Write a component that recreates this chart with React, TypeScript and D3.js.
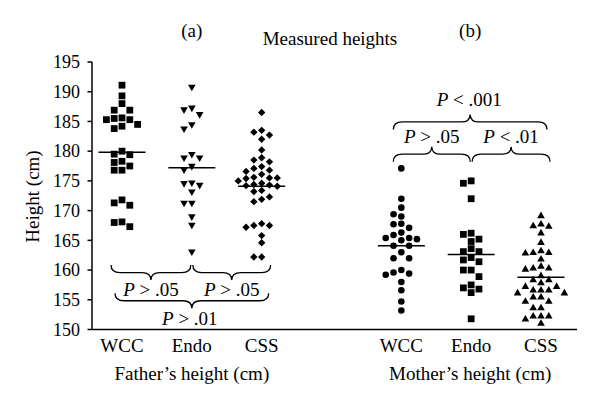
import React from "react";
import * as d3 from "d3";

// ---- data (cm) ----
const groups = ["WCC", "Endo", "CSS"];
const yTicks = [150, 155, 160, 165, 170, 175, 180, 185, 190, 195];

const fatherWCC = [191.1, 189.3, 188.0, 186.9, 186.9, 185.5, 185.3, 185.3, 185.6, 184.2, 183.8, 184.5, 179.4, 180.0, 179.5, 178.3, 178.1, 177.5, 176.8, 176.8, 171.3, 170.9, 171.8, 168.1, 167.3, 168.0];
const fatherEndo = [190.8, 187.0, 186.2, 187.3, 183.8, 184.5, 178.9, 178.9, 179.5, 177.5, 176.9, 174.7, 174.6, 174.3, 173.2, 171.3, 171.3, 169.0, 167.6, 163.1];
const fatherCSS = [186.5, 182.7, 183.2, 183.5, 182.0, 180.2, 178.5, 178.2, 178.9, 177.1, 176.8, 176.6, 177.4, 176.1, 175.6, 175.4, 175.5, 175.5, 174.4, 174.1, 174.3, 175.0, 174.6, 174.2, 173.2, 173.4, 171.9, 171.5, 172.3, 167.5, 167.2, 167.5, 167.8, 165.8, 164.6, 162.2, 162.2];

const motherWCC = [177.1, 172.0, 170.5, 169.4, 169.0, 167.8, 167.1, 167.7, 165.9, 166.3, 165.4, 165.0, 165.4, 165.2, 164.1, 164.1, 163.0, 162.0, 162.0, 160.0, 159.2, 159.4, 159.6, 158.0, 156.6, 154.7, 153.2];
const motherEndo = [174.6, 175.0, 172.0, 166.2, 166.0, 165.2, 164.8, 163.6, 163.1, 163.1, 162.1, 161.7, 161.4, 160.0, 160.0, 158.9, 157.5, 156.8, 156.2, 157.0, 151.8];
const motherCSS = [169.1, 167.4, 167.7, 167.3, 166.2, 164.6, 162.9, 162.8, 163.2, 162.9, 161.8, 160.3, 160.3, 160.1, 160.6, 159.0, 158.3, 158.3, 157.8, 157.2, 157.2, 156.6, 156.6, 156.6, 156.1, 156.1, 155.4, 155.4, 154.7, 154.7, 153.6, 153.6, 152.2, 152.2, 152.2, 151.7, 151.0];

const fatherMeans = [179.8, 177.2, 174.1];
const motherMeans = [164.1, 162.6, 158.8];

const fatherPInner = ["> .05", "> .05"];
const fatherPOuter = "> .01";
const motherPInner = ["> .05", "< .01"];
const motherPOuter = "< .001";

// ---- layout ----
const W = 600, H = 408;
const FONT = "'Liberation Serif', 'Times New Roman', serif";
const FS = 19;
const slots = ["F-WCC", "F-Endo", "F-CSS", "gap", "M-WCC", "M-Endo", "M-CSS"];
const x = d3.scalePoint<string>().domain(slots).range([122, 541]);
const y = d3.scaleLinear().domain([150, 195]).range([329.5, 62]);

function swarm(values: number[], cx: number, step = 7.8, gap = 7) {
  const sorted = values.map((v) => v).sort((a, b) => b - a);
  const placed: { k: number; py: number }[] = [];
  const order = [0, -1, 1, -2, 2, -3, 3, -4, 4];
  return sorted.map((v) => {
    const py = y(v);
    let k = 0;
    for (const c of order) {
      if (placed.every((p) => p.k !== c || Math.abs(p.py - py) >= gap)) { k = c; break; }
    }
    placed.push({ k, py });
    return { x: cx + k * step, y: py };
  });
}

const sq = d3.symbol(d3.symbolSquare, 46)()!;
const tri = d3.symbol(d3.symbolTriangle, 25)()!;
const dia = d3.symbol(d3.symbolSquare, 27)()!;
const circ = d3.symbol(d3.symbolCircle, 34)()!;

const series = [
  { key: "F-WCC", vals: fatherWCC, path: sq, rot: 0 },
  { key: "F-Endo", vals: fatherEndo, path: tri, rot: 180 },
  { key: "F-CSS", vals: fatherCSS, path: dia, rot: 45 },
  { key: "M-WCC", vals: motherWCC, path: circ, rot: 0 },
  { key: "M-Endo", vals: motherEndo, path: sq, rot: 0 },
  { key: "M-CSS", vals: motherCSS, path: tri, rot: 0 },
];

function brace(x0: number, x1: number, ym: number, dir: number, depth = 7.5, r = 9) {
  // dir = +1 tip points down, -1 tip points up
  const xm = (x0 + x1) / 2;
  const ye = ym - dir * depth;
  const yt = ym + dir * depth;
  return `M${x0},${ye} Q${x0},${ym} ${x0 + r},${ym} L${xm - r},${ym} Q${xm},${ym} ${xm},${yt} Q${xm},${ym} ${xm + r},${ym} L${x1 - r},${ym} Q${x1},${ym} ${x1},${ye}`;
}

function PText({ cx, by, s }: { cx: number; by: number; s: string }) {
  return (
    <text x={cx} y={by} textAnchor="middle" fontFamily={FONT} fontSize={FS}>
      <tspan fontStyle="italic">P</tspan>
      <tspan>{" " + s}</tspan>
    </text>
  );
}

export default function App() {
  const fx = ["F-WCC", "F-Endo", "F-CSS"].map((k) => x(k)!);
  const mx = ["M-WCC", "M-Endo", "M-CSS"].map((k) => x(k)!);
  const axisX0 = 92;
  return (
    <svg width={W} height={H} style={{ position: "absolute", left: 0, top: 0, background: "#fff" }}>
      {/* titles */}
      <text x={fx[1]} y={37} textAnchor="middle" fontFamily={FONT} fontSize={FS}>(a)</text>
      <text x={mx[1] - 1} y={37} textAnchor="middle" fontFamily={FONT} fontSize={FS}>(b)</text>
      <text x={330} y={45} textAnchor="middle" fontFamily={FONT} fontSize={FS}>Measured heights</text>

      {/* y axis */}
      <line x1={axisX0} x2={axisX0} y1={y(195)} y2={y(150)} stroke="#000" strokeWidth={1.5} />
      {yTicks.map((t) => (
        <g key={t}>
          <line x1={axisX0 - 4.5} x2={axisX0} y1={y(t)} y2={y(t)} stroke="#000" strokeWidth={1.5} />
          <text x={80} y={y(t)} dy="0.35em" textAnchor="end" fontFamily={FONT} fontSize={18}>{t}</text>
        </g>
      ))}
      <text transform={`translate(39,196.5) rotate(-90)`} textAnchor="middle" fontFamily={FONT} fontSize={FS}>Height (cm)</text>

      {/* x baseline */}
      <line x1={axisX0} x2={577} y1={y(150)} y2={y(150)} stroke="#000" strokeWidth={1.5} />
      {groups.map((g, i) => (
        <g key={g}>
          <text x={fx[i]} y={352} textAnchor="middle" fontFamily={FONT} fontSize={FS}>{g}</text>
          <text x={mx[i]} y={352} textAnchor="middle" fontFamily={FONT} fontSize={FS}>{g}</text>
        </g>
      ))}
      <text x={fx[1]} y={380} textAnchor="middle" fontFamily={FONT} fontSize={FS}>Father’s height (cm)</text>
      <text x={mx[1] - 1} y={380} textAnchor="middle" fontFamily={FONT} fontSize={FS}>Mother’s height (cm)</text>

      {/* points */}
      {series.map((s) =>
        swarm(s.vals, x(s.key)!).map((p, i) => (
          <path key={s.key + i} d={s.path} transform={`translate(${p.x},${p.y}) rotate(${s.rot})`} fill="#000" />
        ))
      )}

      {/* means */}
      {fatherMeans.map((m, i) => (
        <line key={"fm" + i} x1={fx[i] - 23.5} x2={fx[i] + 23.5} y1={y(m)} y2={y(m)} stroke="#000" strokeWidth={1.5} />
      ))}
      {motherMeans.map((m, i) => (
        <line key={"mm" + i} x1={mx[i] - 23.5} x2={mx[i] + 23.5} y1={y(m)} y2={y(m)} stroke="#000" strokeWidth={1.5} />
      ))}

      {/* braces */}
      <g fill="none" stroke="#000" strokeWidth={1.3}>
        <path d={brace(fx[0] - 11, fx[1] - 1, y(159.58), 1)} />
        <path d={brace(fx[1] + 1, fx[2] + 9, y(159.58), 1)} />
        <path d={brace(fx[0] - 7, fx[2] + 7, y(154.84), 1)} />
        <path d={brace(mx[0] - 8, mx[1] - 1, y(179.5), -1)} />
        <path d={brace(mx[1] + 1, mx[2] + 9, y(179.5), -1)} />
        <path d={brace(mx[0] - 8, mx[2] + 6, y(184.92), -1)} />
      </g>
      <PText cx={(fx[0] - 11 + fx[1] - 1) / 2} by={296} s={fatherPInner[0]} />
      <PText cx={(fx[1] + 1 + fx[2] + 9) / 2} by={296} s={fatherPInner[1]} />
      <PText cx={fx[1] - 2} by={325} s={fatherPOuter} />
      <PText cx={(mx[0] - 8 + mx[1] - 1) / 2} by={143} s={motherPInner[0]} />
      <PText cx={(mx[1] + 1 + mx[2] + 9) / 2} by={143} s={motherPInner[1]} />
      <PText cx={mx[1] - 2} by={106} s={motherPOuter} />
    </svg>
  );
}
